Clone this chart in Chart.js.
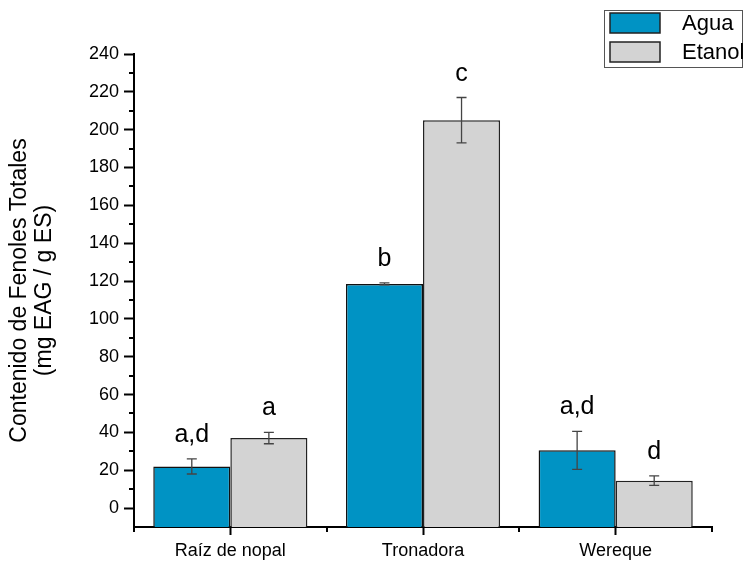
<!DOCTYPE html>
<html>
<head>
<meta charset="utf-8">
<script src="https://cdn.jsdelivr.net/npm/chart.js@4"></script>
<style>
    body { margin: 0; background: #fff; }
</style>
</head>
<body>
<canvas id="chart" width="743" height="561"></canvas>
<script>
const categories = ["Raíz de nopal", "Tronadora", "Wereque"];
const aguaValues = [22, 118.5, 30.5];
const aguaErrors = [4, 0.5, 10];
const etanolValues = [37, 205, 14.5];
const etanolErrors = [3, 12, 2.5];
const aguaLetters = ["a,d", "b", "a,d"];
const etanolLetters = ["a", "c", "d"];
const yTicks = [0, 20, 40, 60, 80, 100, 120, 140, 160, 180, 200, 220, 240];
const yMinorTicks = [10, 30, 50, 70, 90, 110, 130, 150, 170, 190, 210, 230];

const FONT = "'Liberation Sans', Arial, sans-serif";
const BLUE = "#0093c4";
const GRAY = "#d3d3d3";

// barras de error + letras de significancia
const errorBarsPlugin = {
    id: "errorBars",
    afterDatasetsDraw(chart) {
        const ctx = chart.ctx;
        const y = chart.scales.y;
        chart.data.datasets.forEach((ds, i) => {
            const meta = chart.getDatasetMeta(i);
            meta.data.forEach((bar, j) => {
                const v = ds.data[j];
                const e = ds.errors[j];
                const yTop = y.getPixelForValue(v + e);
                const yBot = y.getPixelForValue(v - e);
                ctx.save();
                ctx.strokeStyle = "#444";
                ctx.lineWidth = 1.3;
                ctx.beginPath();
                ctx.moveTo(bar.x, yTop);
                ctx.lineTo(bar.x, yBot);
                ctx.moveTo(bar.x - 5, yTop);
                ctx.lineTo(bar.x + 5, yTop);
                ctx.moveTo(bar.x - 5, yBot);
                ctx.lineTo(bar.x + 5, yBot);
                ctx.stroke();
                ctx.fillStyle = "#000";
                ctx.font = "25px " + FONT;
                ctx.textAlign = "center";
                ctx.textBaseline = "alphabetic";
                ctx.fillText(ds.letters[j], bar.x, yTop - 17);
                ctx.restore();
            });
        });
    }
};

// ticks menores en ambos ejes
const minorTicksPlugin = {
    id: "minorTicks",
    afterDraw(chart) {
        const ctx = chart.ctx;
        const x = chart.scales.x;
        const y = chart.scales.y;
        const area = chart.chartArea;
        ctx.save();
        ctx.strokeStyle = "#000";
        ctx.lineWidth = 2;
        ctx.beginPath();
        yMinorTicks.forEach((v) => {
            const py = Math.round(y.getPixelForValue(v));
            ctx.moveTo(area.left - 5, py);
            ctx.lineTo(area.left, py);
        });
        for (let k = 0; k <= categories.length; k++) {
            const px = Math.round(x.getPixelForValue(k - 0.5));
            ctx.moveTo(px, area.bottom);
            ctx.lineTo(px, area.bottom + 5);
        }
        ctx.stroke();
        ctx.restore();
    }
};

// leyenda con recuadro arriba a la derecha
const boxLegendPlugin = {
    id: "boxLegend",
    afterDraw(chart) {
        const ctx = chart.ctx;
        ctx.save();
        ctx.strokeStyle = "#555";
        ctx.lineWidth = 1;
        ctx.strokeRect(604.5, 10.5, 138, 57);
        chart.data.datasets.forEach((ds, i) => {
            const top = 13 + i * 29;
            ctx.fillStyle = ds.backgroundColor;
            ctx.fillRect(610, top, 50, 20);
            ctx.strokeStyle = "#222";
            ctx.lineWidth = 1.5;
            ctx.strokeRect(610, top, 50, 20);
            ctx.fillStyle = "#000";
            ctx.font = "22px " + FONT;
            ctx.textAlign = "left";
            ctx.textBaseline = "middle";
            ctx.fillText(ds.label, 682, top + 11);
        });
        ctx.restore();
    }
};

const ctx = document.getElementById("chart").getContext("2d");
window.myChart = new Chart(ctx, {
    type: "bar",
    data: {
        labels: categories,
        datasets: [{
                label: "Agua",
                data: aguaValues,
                errors: aguaErrors,
                letters: aguaLetters,
                backgroundColor: BLUE,
                borderColor: "#111",
                borderWidth: 1.5,
                base: -10,
                categoryPercentage: 0.8,
                barPercentage: 1.0,
            },
            {
                label: "Etanol",
                data: etanolValues,
                errors: etanolErrors,
                letters: etanolLetters,
                backgroundColor: GRAY,
                borderColor: "#222",
                borderWidth: 1.5,
                base: -10,
                categoryPercentage: 0.8,
                barPercentage: 1.0,
            },
        ],
    },
    options: {
        responsive: false,
        animation: false,
        layout: {
            padding: { top: 54, right: 31, left: 0, bottom: 0 },
        },
        plugins: {
            legend: { display: false },
            tooltip: { enabled: false },
        },
        scales: {
            x: {
                grid: {
                    display: true,
                    drawOnChartArea: false,
                    drawTicks: true,
                    tickLength: 8,
                    tickWidth: 2,
                    tickColor: "#000",
                    offset: false,
                },
                border: { display: true, color: "#000", width: 2 },
                ticks: {
                    color: "#000",
                    padding: 5,
                    font: { family: FONT, size: 18 },
                },
                afterFit: (s) => { s.height = 34; },
            },
            y: {
                min: -10,
                max: 240,
                afterBuildTicks: (s) => { s.ticks = yTicks.map((v) => ({ value: v })); },
                grid: {
                    display: true,
                    drawOnChartArea: false,
                    drawTicks: true,
                    tickLength: 10,
                    tickWidth: 2,
                    tickColor: "#000",
                },
                border: { display: true, color: "#000", width: 2 },
                ticks: {
                    color: "#000",
                    padding: 5,
                    font: { family: FONT, size: 18 },
                },
                title: {
                    display: true,
                    text: ["Contenido de Fenoles Totales", "(mg EAG / g ES)"],
                    color: "#000",
                    font: { family: FONT, size: 23, lineHeight: 1.05 },
                    padding: { top: 8, bottom: 0 },
                },
                afterFit: (s) => { s.width = 134; },
            },
        },
    },
    plugins: [errorBarsPlugin, minorTicksPlugin, boxLegendPlugin],
});
</script>
</body>
</html>
